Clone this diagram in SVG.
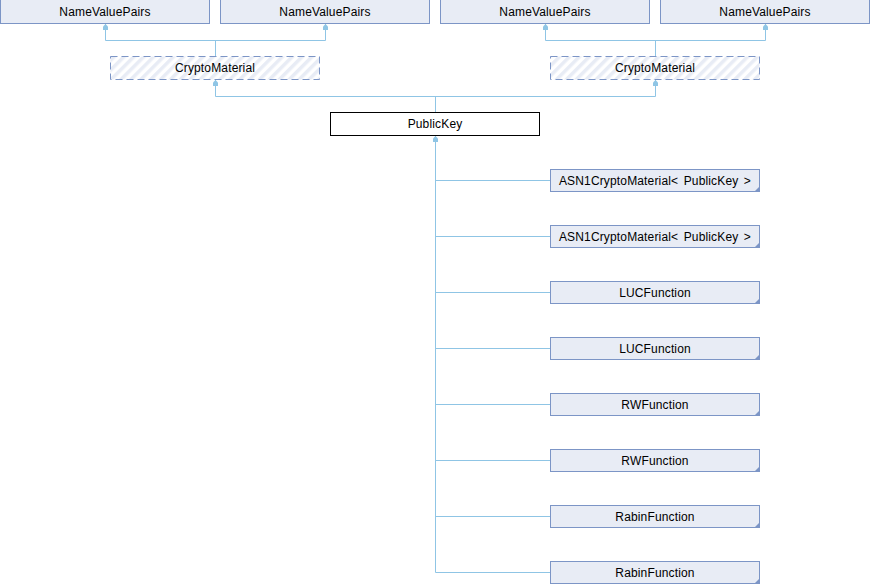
<svg xmlns="http://www.w3.org/2000/svg" width="870" height="584" viewBox="0 0 870 584">
<style>
  .box { fill: #E8ECF5; stroke: #7C95C6; stroke-width: 1; }
  .ghost { fill: url(#hatch); stroke: #7C95C6; stroke-width: 1; stroke-dasharray: 7 4; }
  .main { fill: #FFFFFF; stroke: #000000; stroke-width: 1; }
  .lbl { font-family: "Liberation Sans", Arial, sans-serif; font-size: 12px; fill: #000000; text-anchor: middle; letter-spacing: 0.15px; word-spacing: 2px; }
  .edge { fill: none; stroke: #8FC5E5; stroke-width: 1; }
  .corner { fill: #7C95C6; }
</style>
<defs>
  <pattern id="hatch" patternUnits="userSpaceOnUse" width="7" height="7" patternTransform="rotate(45)">
    <rect width="7" height="7" fill="#FFFFFF"/>
    <rect x="0" y="0" width="3.5" height="7" fill="#E8ECF5"/>
  </pattern>
  <marker id="arr" markerWidth="6" markerHeight="6" refX="6" refY="3" orient="auto" markerUnits="userSpaceOnUse" viewBox="0 0 6 6">
    <path d="M6,3 L3.5,0.5 L0,0.5 L0,5.5 L3.5,5.5 Z" fill="#8FC5E5"/>
  </marker>
</defs>

<g id="connectors">
  <path class="edge" d="M215.5,56 V40.5 M105.5,40.5 H325.5" />
  <path class="edge" d="M105.5,40.5 V24" marker-end="url(#arr)"/>
  <path class="edge" d="M325.5,40.5 V24" marker-end="url(#arr)"/>
  <path class="edge" d="M655.5,56 V40.5 M545.5,40.5 H765.5" />
  <path class="edge" d="M545.5,40.5 V24" marker-end="url(#arr)"/>
  <path class="edge" d="M765.5,40.5 V24" marker-end="url(#arr)"/>
  <path class="edge" d="M435.5,112 V96.5 M215.5,96.5 H655.5" />
  <path class="edge" d="M215.5,96.5 V80" marker-end="url(#arr)"/>
  <path class="edge" d="M655.5,96.5 V80" marker-end="url(#arr)"/>
  <path class="edge" d="M435.5,572.5 V136" marker-end="url(#arr)"/>
  <path class="edge" d="M435.5,180.5 H550 M435.5,236.5 H550 M435.5,292.5 H550 M435.5,348.5 H550 M435.5,404.5 H550 M435.5,460.5 H550 M435.5,516.5 H550 M435.5,572.5 H550"/>
</g>

<g id="nvp1"><rect class="box" x="0.5" y="-0.5" width="209" height="24"/><text class="lbl" x="105" y="16">NameValuePairs</text></g>
<g id="nvp2"><rect class="box" x="220.5" y="-0.5" width="209" height="24"/><text class="lbl" x="325" y="16">NameValuePairs</text></g>
<g id="nvp3"><rect class="box" x="440.5" y="-0.5" width="209" height="24"/><text class="lbl" x="545" y="16">NameValuePairs</text></g>
<g id="nvp4"><rect class="box" x="660.5" y="-0.5" width="209" height="24"/><text class="lbl" x="765" y="16">NameValuePairs</text></g>

<g id="cm1"><rect class="ghost" x="110.5" y="56.5" width="209" height="23"/><text class="lbl" x="215" y="72">CryptoMaterial</text></g>
<g id="cm2"><rect class="ghost" x="550.5" y="56.5" width="209" height="23"/><text class="lbl" x="655" y="72">CryptoMaterial</text></g>

<g id="publickey"><rect class="main" x="330.5" y="112.5" width="209" height="23"/><text class="lbl" x="435" y="128">PublicKey</text></g>

<g id="asn1a"><rect class="box" x="550.5" y="169.5" width="209" height="22"/><polygon class="corner" points="760,186 760,192 754,192"/><text class="lbl" x="655" y="185">ASN1CryptoMaterial&lt; PublicKey &gt;</text></g>
<g id="asn1b"><rect class="box" x="550.5" y="225.5" width="209" height="22"/><polygon class="corner" points="760,242 760,248 754,248"/><text class="lbl" x="655" y="241">ASN1CryptoMaterial&lt; PublicKey &gt;</text></g>
<g id="luc1"><rect class="box" x="550.5" y="281.5" width="209" height="22"/><polygon class="corner" points="760,298 760,304 754,304"/><text class="lbl" x="655" y="297">LUCFunction</text></g>
<g id="luc2"><rect class="box" x="550.5" y="337.5" width="209" height="22"/><polygon class="corner" points="760,354 760,360 754,360"/><text class="lbl" x="655" y="353">LUCFunction</text></g>
<g id="rw1"><rect class="box" x="550.5" y="393.5" width="209" height="22"/><polygon class="corner" points="760,410 760,416 754,416"/><text class="lbl" x="655" y="409">RWFunction</text></g>
<g id="rw2"><rect class="box" x="550.5" y="449.5" width="209" height="22"/><polygon class="corner" points="760,466 760,472 754,472"/><text class="lbl" x="655" y="465">RWFunction</text></g>
<g id="rabin1"><rect class="box" x="550.5" y="505.5" width="209" height="22"/><polygon class="corner" points="760,522 760,528 754,528"/><text class="lbl" x="655" y="521">RabinFunction</text></g>
<g id="rabin2"><rect class="box" x="550.5" y="561.5" width="209" height="22"/><polygon class="corner" points="760,578 760,584 754,584"/><text class="lbl" x="655" y="577">RabinFunction</text></g>
</svg>
